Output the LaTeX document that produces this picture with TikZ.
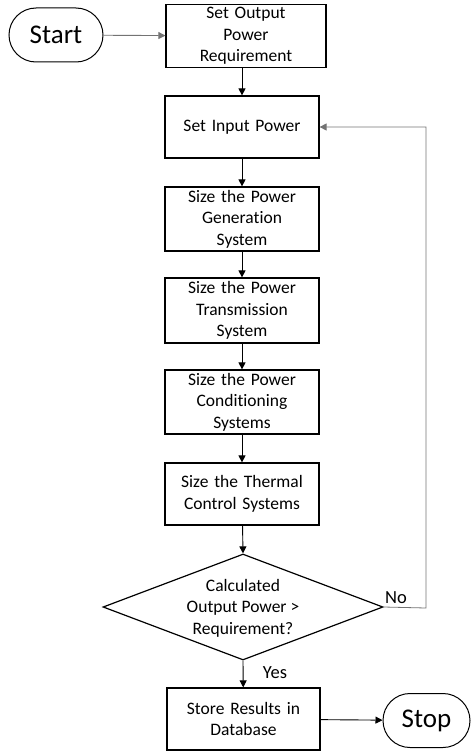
\documentclass[tikz,border=0pt]{standalone}
\usepackage{fontspec}
\setmainfont{Carlito}[Ligatures=CommonOff]
\usetikzlibrary{arrows.meta,shapes.geometric}
\begin{document}
\begin{tikzpicture}[x=1pt,y=-1pt,
  every node/.style={font=\fontsize{17.5}{21.5}\selectfont},
  procbox/.style={draw,line width=1.2pt,minimum width=154pt,minimum height=63pt,align=center,inner sep=0pt,text width=152pt},
  terminal/.style={draw,line width=1pt,rounded corners=27pt,minimum width=94pt,minimum height=54pt,inner sep=0pt,font=\fontsize{27}{30}\selectfont},
  decision/.style={draw,line width=1.2pt,diamond,minimum width=280pt,minimum height=106pt,inner sep=0pt},
  flow/.style={line width=0.9pt,-{Triangle[length=7pt,width=7pt]}},
  softflow/.style={flow,draw=black!55},
  tag/.style={font=\fontsize{18.5}{21}\selectfont}
]
\useasboundingbox (0,0) rectangle (472,752);

% terminals
\node[terminal] (start) at (56,35) {Start};
\node[terminal,minimum width=87pt] (stop) at (426.5,720.5) {Stop};

% process steps
\node[procbox,minimum width=160pt] (req) at (246,36) {Set Output\\Power\\Requirement};
\node[procbox,minimum height=62pt] (inp) at (242,127) {Set Input Power};
\node[procbox,minimum height=64pt] (gen) at (242,219) {Size the Power\\Generation\\System};
\node[procbox,minimum height=65pt] (trans) at (242,310.5) {Size the Power\\Transmission\\System};
\node[procbox,minimum height=64pt] (cond) at (242,402) {Size the Power\\Conditioning\\Systems};
\node[procbox,minimum height=62pt] (therm) at (242,494) {Size the Thermal\\Control Systems};

% decision
\node[decision] (dec) at (243,607) {};
\node[align=center] (dectext) at (243,608) {Calculated\\Output Power >\\Requirement?};

% final step
\node[procbox,minimum width=153pt,minimum height=62pt] (store) at (243.5,719) {Store Results in\\Database};

% loop-back corner
\coordinate (loopA) at (426,608);
\coordinate (loopB) at (426,127);

% connectors
\draw[softflow] (start) -- (req);
\draw[flow] (req.south -| inp.north) -- (inp);
\draw[flow] (inp) -- (gen);
\draw[flow] (gen) -- (trans);
\draw[flow] (trans) -- (cond);
\draw[flow] (cond) -- (therm);
\draw[flow] (therm) -- (dec.north);
\draw[flow] (dec.south) -- (store);
\draw[flow] (store) -- (stop);
\draw[softflow,line width=0.8pt] (dec.east) -- (loopA) -- (loopB) -- (inp.east);

% branch labels
\node[tag] (nolab) at (396,598) {No};
\node[tag] (yeslab) at (275,673) {Yes};
\end{tikzpicture}
\end{document}
